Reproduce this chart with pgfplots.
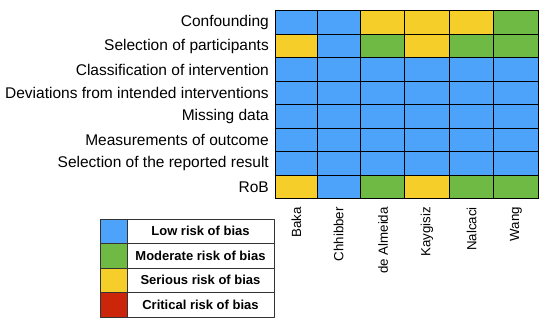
\documentclass[border=0pt]{standalone}
\usepackage{pgfplots}
\pgfplotsset{compat=1.18}
\usepackage{fontspec}
\setmainfont{Liberation Sans}
\begin{document}
\begin{tikzpicture}
\begin{axis}[
  width=261pt, height=188pt, scale only axis,
  xmin=277, xmax=538, ymin=11, ymax=199, y dir=reverse,
  clip=false,
  axis line style={draw=none},
  major tick length=0pt,
  colormap={rob}{rgb255=(77,163,250) rgb255=(110,186,68) rgb255=(246,206,42) rgb255=(204,38,10) rgb255=(255,255,255)},
  colormap access=direct,
  xtick={296.5,338.5,383,427,471.5,516},
  xticklabels={Baka,Chhibber,de Almeida,Kaygisiz,Nalcaci,Wang},
  xticklabel style={rotate=90, anchor=east, font=\fontsize{13.3}{15}\selectfont, inner sep=0pt},
  xticklabel shift=8pt,
  ytick={22.75,46.25,69.75,93.25,116.75,140.25,163.75,187.25},
  yticklabels={Confounding,Selection of participants,Classification of intervention,Deviations from intended interventions,Missing data,Measurements of outcome,Selection of the reported result,RoB},
  yticklabel style={anchor=east, font=\fontsize{15.5}{17}\selectfont, inner sep=0pt},
  yticklabel shift=8pt,
]
\addplot[matrix plot*, mesh/cols=6, point meta=explicit, shader=faceted, faceted color=black, line width=1pt]
table[meta=c] {
x y c
296.5 22.75 0
338.5 22.75 0
383 22.75 2
427 22.75 2
471.5 22.75 2
516 22.75 1
296.5 46.25 2
338.5 46.25 0
383 46.25 1
427 46.25 2
471.5 46.25 1
516 46.25 1
296.5 69.75 0
338.5 69.75 0
383 69.75 0
427 69.75 0
471.5 69.75 0
516 69.75 0
296.5 93.25 0
338.5 93.25 0
383 93.25 0
427 93.25 0
471.5 93.25 0
516 93.25 0
296.5 116.75 0
338.5 116.75 0
383 116.75 0
427 116.75 0
471.5 116.75 0
516 116.75 0
296.5 140.25 0
338.5 140.25 0
383 140.25 0
427 140.25 0
471.5 140.25 0
516 140.25 0
296.5 163.75 0
338.5 163.75 0
383 163.75 0
427 163.75 0
471.5 163.75 0
516 163.75 0
296.5 187.25 2
338.5 187.25 0
383 187.25 1
427 187.25 2
471.5 187.25 1
516 187.25 1
};
% legend
\addplot[patch, patch type=rectangle, point meta=explicit, shader=faceted, faceted color=black!80, line width=0.8pt]
table[meta=c] {
x y c
100 219 0
127 219 0
127 243.5 0
100 243.5 0
127 219 4
274 219 4
274 243.5 4
127 243.5 4
100 243.5 1
127 243.5 1
127 268 1
100 268 1
127 243.5 4
274 243.5 4
274 268 4
127 268 4
100 268 2
127 268 2
127 292.5 2
100 292.5 2
127 268 4
274 268 4
274 292.5 4
127 292.5 4
100 292.5 3
127 292.5 3
127 317 3
100 317 3
127 292.5 4
274 292.5 4
274 317 4
127 317 4
};
\begin{scope}[every node/.style={font=\bfseries\fontsize{13}{15}\selectfont, inner sep=0pt}]
\node at (axis cs:200.5,231.25) {Low risk of bias};
\node at (axis cs:200.5,255.75) {Moderate risk of bias};
\node at (axis cs:200.5,280.25) {Serious risk of bias};
\node at (axis cs:200.5,304.75) {Critical risk of bias};
\end{scope}
\path (axis cs:0,0) rectangle (axis cs:550,328);
\end{axis}
\end{tikzpicture}
\end{document}
